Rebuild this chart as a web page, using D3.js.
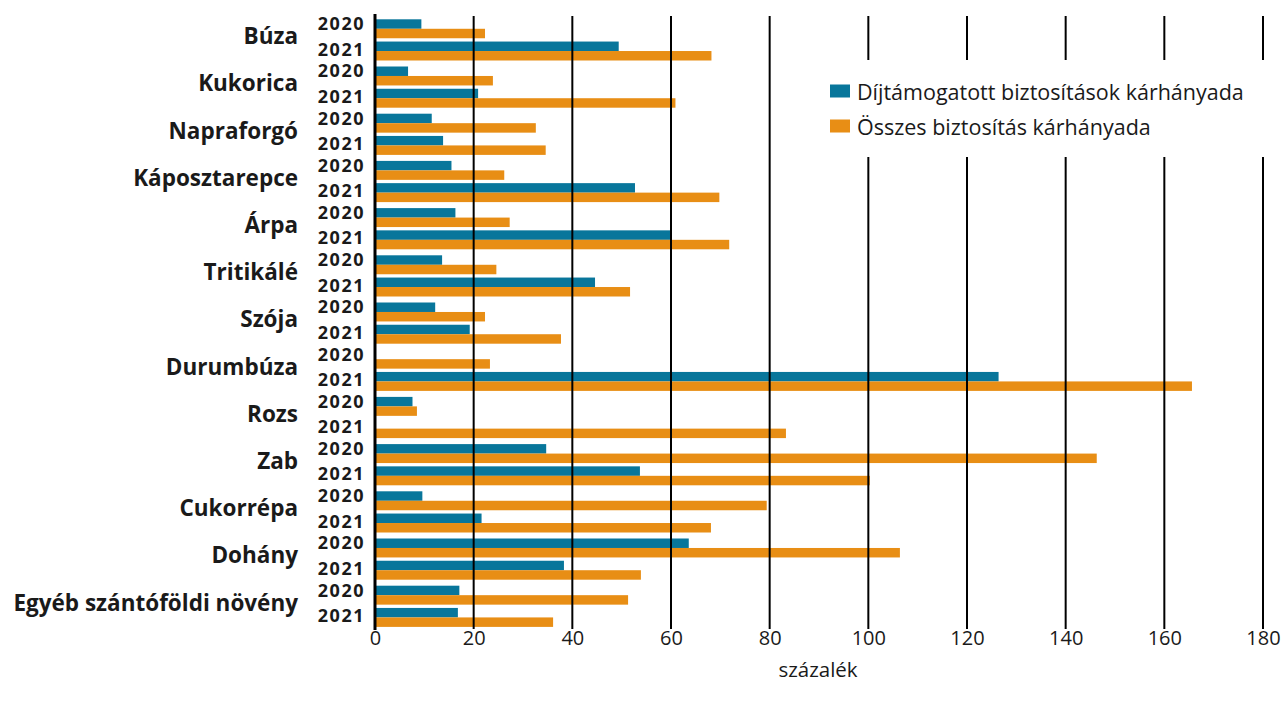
<!DOCTYPE html>
<html>
<head>
<meta charset="utf-8">
<script src="https://cdn.jsdelivr.net/npm/d3@7"></script>
<style>
  html, body { margin: 0; padding: 0; background: #fff; }
  svg { display: block; }
  text { font-family: "Open Sans", "Noto Sans", sans-serif; fill: #1a1a1a; }
</style>
</head>
<body>
<svg id="chart" width="1282" height="709"></svg>
<script>
const categories = ["Búza","Kukorica","Napraforgó","Káposztarepce","Árpa","Tritikálé","Szója","Durumbúza","Rozs","Zab","Cukorrépa","Dohány","Egyéb szántóföldi növény"];
const years = ["2020","2021"];
const seriesNames = ["Díjtámogatott biztosítások kárhányada","Összes biztosítás kárhányada"];
const subsidized2020 = [9.4, 6.7, 11.5, 15.5, 16.3, 13.6, 12.2, null, 7.6, 34.7, 9.6, 63.6, 17.1];
const subsidized2021 = [49.4, 20.9, 13.8, 52.7, 60.0, 44.6, 19.2, 126.4, null, 53.7, 21.6, 38.3, 16.8];
const total2020 = [22.3, 23.9, 32.6, 26.2, 27.3, 24.6, 22.3, 23.3, 8.5, 146.3, 79.4, 106.4, 51.3];
const total2021 = [68.2, 60.9, 34.6, 69.8, 71.8, 51.7, 37.7, 165.6, 83.3, 100.3, 68.1, 53.9, 36.1];
const tickValues = [0, 20, 40, 60, 80, 100, 120, 140, 160, 180];
const axisTitle = "százalék";
const colors = ["#08769b", "#e88e15"];

const svg = d3.select("#chart");
const x = d3.scaleLinear().domain([0, 180]).range([375, 1263]);
const yGroup = d3.scaleBand().domain(categories).range([16.1, 16.1 + 13 * 47.2]).padding(0);
const yYear = d3.scaleBand().domain(years).range([3.2, 44.4]).paddingInner(0.148).paddingOuter(0);
const ySeries = d3.scaleBand().domain(seriesNames).range([0, yYear.bandwidth()]).padding(0);

const valuesBy = {
  "2020": [subsidized2020, total2020],
  "2021": [subsidized2021, total2021]
};

const rows = [];
categories.forEach((c, i) => {
  years.forEach(yr => {
    seriesNames.forEach((s, k) => {
      const v = valuesBy[yr][k][i];
      if (v != null) rows.push({c, yr, s, k, v});
    });
  });
});

// bars
svg.append("g").selectAll("rect").data(rows).join("rect")
  .attr("x", x(0))
  .attr("y", d => yGroup(d.c) + yYear(d.yr) + ySeries(d.s))
  .attr("width", d => x(d.v) - x(0))
  .attr("height", ySeries.bandwidth())
  .attr("fill", d => colors[d.k]);

// gridlines (drawn on top of bars)
const gridTop = 16, gridBottom = 629;
svg.append("g").selectAll("line").data(tickValues.filter(t => t > 0)).join("line")
  .attr("x1", d => x(d)).attr("x2", d => x(d))
  .attr("y1", gridTop).attr("y2", gridBottom)
  .attr("stroke", "#000").attr("stroke-width", 2);

// zero axis line
svg.append("line")
  .attr("x1", x(0)).attr("x2", x(0))
  .attr("y1", 14).attr("y2", 630)
  .attr("stroke", "#000").attr("stroke-width", 3);

// x axis tick labels via d3 axis
const xAxis = d3.axisBottom(x).tickValues(tickValues).tickSize(0).tickPadding(0).tickFormat(d3.format("d"));
const gx = svg.append("g").attr("transform", "translate(0,628)").call(xAxis);
gx.select(".domain").remove();
gx.selectAll("text").attr("font-size", 20).attr("dy", "0").attr("y", 9)
  .attr("font-family", "'Open Sans', sans-serif").attr("fill", "#1a1a1a")
  .attr("dominant-baseline", "central");

svg.append("text").attr("x", 818).attr("y", 669)
  .attr("text-anchor", "middle").attr("dominant-baseline", "central")
  .attr("font-size", 20.5).text(axisTitle);

// category labels
svg.append("g").selectAll("text").data(categories).join("text")
  .attr("x", 298)
  .attr("y", d => yGroup(d) + yGroup.bandwidth() / 2 - 4)
  .attr("text-anchor", "end").attr("dominant-baseline", "central")
  .attr("font-size", 22.5).attr("font-weight", "bold")
  .text(d => d);

// year labels
const yearRows = [];
categories.forEach(c => years.forEach(yr => yearRows.push({c, yr})));
svg.append("g").selectAll("text").data(yearRows).join("text")
  .attr("x", 365)
  .attr("y", d => yGroup(d.c) + yYear(d.yr) + yYear.bandwidth() / 2 + (d.yr === years[0] ? -5.5 : -2.5))
  .attr("text-anchor", "end").attr("dominant-baseline", "central")
  .attr("font-family", "Roboto, 'Liberation Sans', sans-serif")
  .attr("font-size", 18).attr("font-weight", "bold")
  .attr("letter-spacing", 1.5)
  .text(d => d.yr);

// legend
const lg = svg.append("g");
lg.append("rect").attr("x", 815).attr("y", 60).attr("width", 467).attr("height", 97).attr("fill", "#fff");
seriesNames.forEach((s, k) => {
  const cy = 91 + k * 35;
  lg.append("rect").attr("x", 830).attr("y", cy - 6.5).attr("width", 20).attr("height", 13).attr("fill", colors[k]);
  lg.append("text").attr("x", 857).attr("y", cy)
    .attr("dominant-baseline", "central").attr("font-size", 21.5).text(s);
});
</script>
</body>
</html>
